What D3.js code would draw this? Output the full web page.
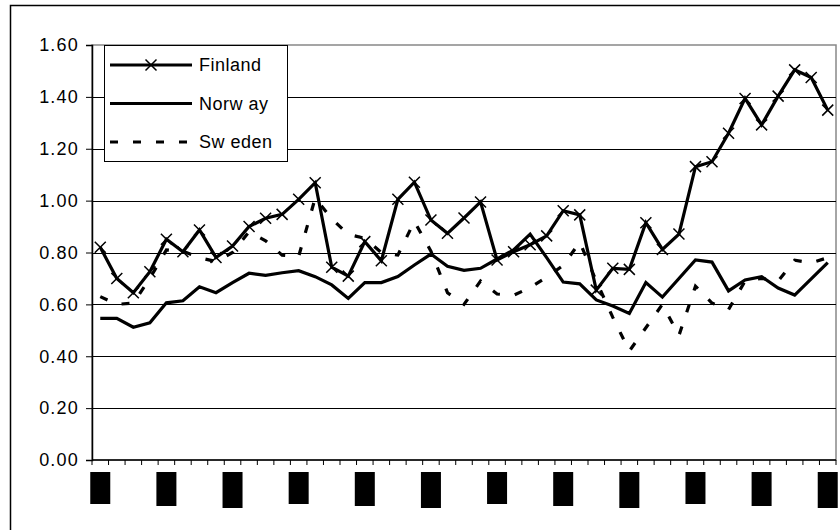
<!DOCTYPE html>
<html>
<head>
<meta charset="utf-8">
<script src="https://cdn.jsdelivr.net/npm/d3@7"></script>
<style>
  body { margin: 0; background: #fff; }
  text { font-family: "Liberation Sans", Arial, sans-serif; fill: #000; }
</style>
</head>
<body>
<div id="chart"></div>
<script>
// 45 periods, labels only every 4th one (they render as black blocks)
const periods = d3.range(45);
const labelledPeriods = [0, 4, 8, 12, 16, 20, 24, 28, 32, 36, 40, 44];
const yTicks = [0, 0.2, 0.4, 0.6, 0.8, 1.0, 1.2, 1.4, 1.6];

const finland = [0.82, 0.70, 0.645, 0.726, 0.851, 0.803, 0.887, 0.781, 0.825, 0.90,
  0.932, 0.947, 1.005, 1.069, 0.743, 0.709, 0.842, 0.768, 1.005, 1.071,
  0.925, 0.874, 0.933, 0.995, 0.771, 0.803, 0.83, 0.864, 0.961, 0.945,
  0.655, 0.739, 0.735, 0.915, 0.812, 0.871, 1.131, 1.15, 1.26, 1.394,
  1.292, 1.403, 1.504, 1.475, 1.349];
const norway = [0.546, 0.546, 0.512, 0.529, 0.606, 0.614, 0.668, 0.645, 0.684, 0.72,
  0.712, 0.722, 0.73, 0.707, 0.675, 0.623, 0.684, 0.684, 0.707, 0.752,
  0.794, 0.747, 0.731, 0.739, 0.775, 0.81, 0.871, 0.78, 0.686, 0.679,
  0.617, 0.594, 0.565, 0.684, 0.628, 0.70, 0.771, 0.763, 0.652, 0.694,
  0.707, 0.663, 0.636, 0.698, 0.761];
const sweden = [0.63, 0.60, 0.605, 0.70, 0.81, 0.805, 0.78, 0.765, 0.80, 0.88,
  0.845, 0.79, 0.785, 1.01, 0.93, 0.87, 0.855, 0.80, 0.79, 0.92,
  0.805, 0.645, 0.60, 0.69, 0.64, 0.635, 0.665, 0.705, 0.75, 0.84,
  0.69, 0.55, 0.42, 0.51, 0.60, 0.48, 0.67, 0.605, 0.58, 0.69,
  0.70, 0.69, 0.77, 0.76, 0.78];

const series = [
  { name: 'Finland', values: finland, dash: null, marker: true },
  { name: 'Norw ay', values: norway, dash: null, marker: false },
  { name: 'Sw eden', values: sweden, dash: '8,15', marker: false }
];

const width = 840, height = 530;
const plot = { left: 92, right: 836, top: 45, bottom: 460 };

const svg = d3.select('#chart').append('svg')
  .attr('width', width)
  .attr('height', height);

// chart frame
svg.append('rect')
  .attr('x', 10.5).attr('y', 5.5)
  .attr('width', 840).attr('height', 530)
  .attr('fill', 'none').attr('stroke', '#000').attr('stroke-width', 1.5);

const x = d3.scaleBand().domain(periods).range([plot.left, plot.right]);
const cx = d => x(d) + x.bandwidth() / 2;
const y = d3.scaleLinear().domain([0, 1.6]).range([plot.bottom, plot.top]);

// plot border (grey top / right)
svg.append('rect')
  .attr('x', plot.left).attr('y', plot.top)
  .attr('width', plot.right - plot.left).attr('height', plot.bottom - plot.top)
  .attr('fill', 'none').attr('stroke', '#888').attr('stroke-width', 1.5);

// gridlines
svg.append('g')
  .selectAll('line')
  .data(yTicks.filter(t => t > 0 && t < 1.6))
  .join('line')
  .attr('x1', plot.left).attr('x2', plot.right)
  .attr('y1', d => Math.round(y(d)) + 0.5).attr('y2', d => Math.round(y(d)) + 0.5)
  .attr('stroke', '#000').attr('stroke-width', 1);

// y axis
const yAxis = svg.append('g')
  .attr('transform', `translate(${plot.left},0)`)
  .call(d3.axisLeft(y).tickValues(yTicks).tickFormat(d3.format('.2f')).tickSize(6).tickPadding(7));
yAxis.select('.domain').attr('stroke', '#000').attr('stroke-width', 1.5);
yAxis.selectAll('.tick line').attr('stroke', '#000');
yAxis.selectAll('.tick text')
  .attr('font-size', 18)
  .attr('letter-spacing', 1.2)
  .attr('font-family', '"Liberation Sans", Arial, sans-serif');

// x axis: ticks on band boundaries
const xg = svg.append('g');
xg.append('line')
  .attr('x1', plot.left).attr('x2', plot.right)
  .attr('y1', plot.bottom).attr('y2', plot.bottom)
  .attr('stroke', '#000').attr('stroke-width', 1.5);
xg.selectAll('line.tk')
  .data(periods.concat([periods.length]))
  .join('line')
  .attr('class', 'tk')
  .attr('x1', d => d < periods.length ? x(d) : plot.right)
  .attr('x2', d => d < periods.length ? x(d) : plot.right)
  .attr('y1', plot.bottom).attr('y2', plot.bottom + 5)
  .attr('stroke', '#000');

// category labels (rendered as solid blocks in the source)
xg.selectAll('rect.lbl')
  .data(labelledPeriods)
  .join('rect')
  .attr('class', 'lbl')
  .attr('x', d => cx(d) - 10)
  .attr('y', plot.bottom + 12)
  .attr('width', 20)
  .attr('height', (d, i) => 32 + (i % 3) * 2)
  .attr('fill', '#000');

// lines
const line = d3.line()
  .x((d, i) => cx(periods[i]))
  .y(d => y(d));

series.forEach(s => {
  svg.append('path')
    .datum(s.values)
    .attr('d', line)
    .attr('fill', 'none')
    .attr('stroke', '#000')
    .attr('stroke-width', 3.2)
    .attr('stroke-linejoin', 'miter')
    .attr('stroke-dasharray', s.dash);
});

function drawX(g, px, py) {
  const r = 5.5;
  g.append('path')
    .attr('d', `M${px - r},${py - r}L${px + r},${py + r}M${px - r},${py + r}L${px + r},${py - r}`)
    .attr('stroke', '#000').attr('stroke-width', 1.5).attr('fill', 'none');
}

const markers = svg.append('g');
finland.forEach((v, i) => drawX(markers, cx(periods[i]), y(v)));

// legend
const lg = svg.append('g');
lg.append('rect')
  .attr('x', 104.5).attr('y', 45.5)
  .attr('width', 183).attr('height', 116)
  .attr('fill', '#fff').attr('stroke', '#000').attr('stroke-width', 1);

series.forEach((s, i) => {
  const ly = 65 + i * 38.5;
  lg.append('line')
    .attr('x1', 110).attr('x2', 192)
    .attr('y1', ly).attr('y2', ly)
    .attr('stroke', '#000').attr('stroke-width', 3.2)
    .attr('stroke-dasharray', s.dash);
  if (s.marker) drawX(lg, 151, ly);
  lg.append('text')
    .attr('x', 199).attr('y', ly + 6)
    .attr('font-size', 18)
    .attr('letter-spacing', 0.5)
    .text(s.name);
});
</script>
</body>
</html>
